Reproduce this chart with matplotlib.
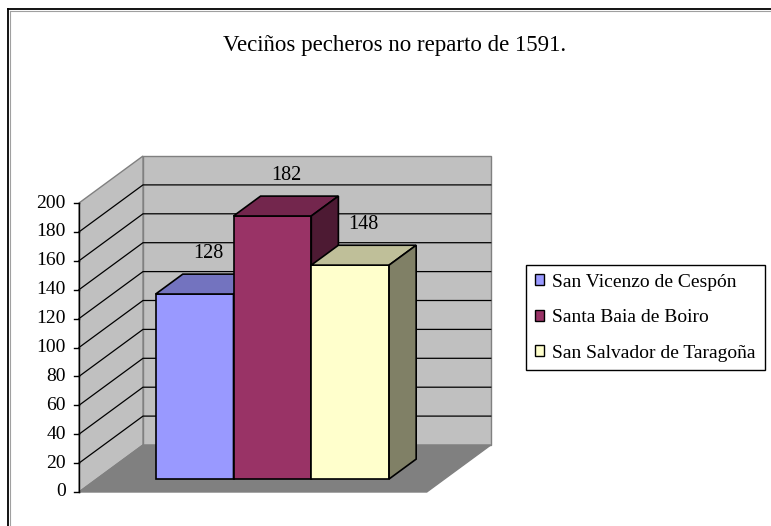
import matplotlib
matplotlib.use("Agg")
import matplotlib.pyplot as plt
from matplotlib.patches import Polygon, Patch
from matplotlib.lines import Line2D

# ---- data ----
series = ["San Vicenzo de Cespón", "Santa Baia de Boiro", "San Salvador de Taragoña"]
values = [128, 182, 148]
front_colors = ["#9999FF", "#993366", "#FFFFCC"]
top_colors = ["#7373BF", "#73264D", "#BFBF99"]
side_colors = ["#4D4D80", "#4D1A33", "#808066"]
yticks = list(range(0, 201, 20))
title = "Veciños pecheros no reparto de 1591."

W, H, DPI = 771, 526, 100
plt.rcParams["font.family"] = ["Liberation Serif", "DejaVu Serif"]

fig = plt.figure(figsize=(W / DPI, H / DPI), dpi=DPI)
ax = fig.add_axes([0, 0, 1, 1])
ax.axis("off")

# scales: x in category units, y in value units
PX_X = 77.8   # px per category unit
PX_Y = 1.445  # px per value unit
X0_PX, Y0_PX = 79, 492
xlo = -X0_PX / PX_X
ylo = -(H - Y0_PX) / PX_Y
ax.set_xlim(xlo, xlo + W / PX_X)
ax.set_ylim(ylo, ylo + H / PX_Y)

DX = 64 / PX_X   # full-depth shift in x
DY = 47 / PX_Y   # full-depth shift in y
FLOOR_LEN = 4.47
VMAX = 200


def P(x, v, d):
    return (x + d * DX, v + d * DY)


def poly(pts, fc, ec, lw, z):
    ax.add_patch(Polygon(pts, closed=True, facecolor=fc, edgecolor=ec, lw=lw, zorder=z,
                         joinstyle="miter"))


# walls and floor
poly([P(0, 0, 1), P(FLOOR_LEN, 0, 1), P(FLOOR_LEN, VMAX, 1), P(0, VMAX, 1)], "#C0C0C0", "#808080", 1.0, 1)
poly([P(0, 0, 0), P(0, 0, 1), P(0, VMAX, 1), P(0, VMAX, 0)], "#C0C0C0", "#808080", 1.0, 1)
poly([P(0, 0, 0), P(FLOOR_LEN, 0, 0), P(FLOOR_LEN, 0, 1), P(0, 0, 1)], "#808080", "#808080", 1.0, 1)

# gridlines
for t in yticks[1:-1]:
    xs, ys = zip(P(0, t, 0), P(0, t, 1), P(FLOOR_LEN, t, 1))
    ax.plot(xs, ys, color="black", lw=0.9, zorder=2)

# value axis
ax.plot([0, 0], [0, VMAX], color="black", lw=1.0, zorder=3)
for t in yticks:
    ax.plot([-5 / PX_X, 0], [t, t], color="black", lw=1.0, zorder=3)
    ax.text(-13 / PX_X, t, str(t), ha="right", va="center", fontsize=14, zorder=3)

# bars
D1, D2 = 0.277, 0.70
X_START = 0.758
for i, (v, fc, tc, sc) in enumerate(zip(values, front_colors, top_colors, side_colors)):
    x0, x1 = X_START + i, X_START + i + 1
    z = 10 + i
    poly([P(x0, 0, D1), P(x1, 0, D1), P(x1, v, D1), P(x0, v, D1)], fc, "black", 1.2, z)
    poly([P(x0, v, D1), P(x1, v, D1), P(x1, v, D2), P(x0, v, D2)], tc, "black", 1.2, z)
    poly([P(x1, 0, D1), P(x1, 0, D2), P(x1, v, D2), P(x1, v, D1)], sc, "black", 1.2, z)
    lx, ly = P((x0 + x1) / 2, v, (D1 + D2) / 2)
    ax.annotate(str(v), (lx, ly), xytext=(0, 22), textcoords="offset points",
                ha="center", va="center", fontsize=14.5, zorder=20)

# title
fig.text(395 / W, 1 - 45 / H, title, ha="center", va="center", fontsize=16.5)

# legend
handles = [Patch(facecolor=c, edgecolor="black", lw=1.0) for c in front_colors]
leg = fig.legend(handles, series, loc="upper left",
                 bbox_to_anchor=(526 / W, 1 - 265 / H), fontsize=14,
                 frameon=True, fancybox=False, edgecolor="black", framealpha=1,
                 handlelength=0.5, handleheight=0.5, handletextpad=0.4,
                 labelspacing=0.95, borderpad=0.45, borderaxespad=0)
leg.get_frame().set_linewidth(1.0)

# outer frame
fig.add_artist(Line2D([8 / W, 8 / W], [0, 1 - 9 / H], color="black", lw=1.3, transform=fig.transFigure))
fig.add_artist(Line2D([8 / W, 1], [1 - 9 / H, 1 - 9 / H], color="black", lw=1.3, transform=fig.transFigure))
fig.add_artist(Line2D([9.5 / W, 9.5 / W], [0, 1 - 10.5 / H], color="#A0A0A0", lw=0.8, transform=fig.transFigure))
fig.add_artist(Line2D([9.5 / W, 1], [1 - 10.5 / H, 1 - 10.5 / H], color="#A0A0A0", lw=0.8, transform=fig.transFigure))

fig.savefig("out.png", dpi=DPI)
